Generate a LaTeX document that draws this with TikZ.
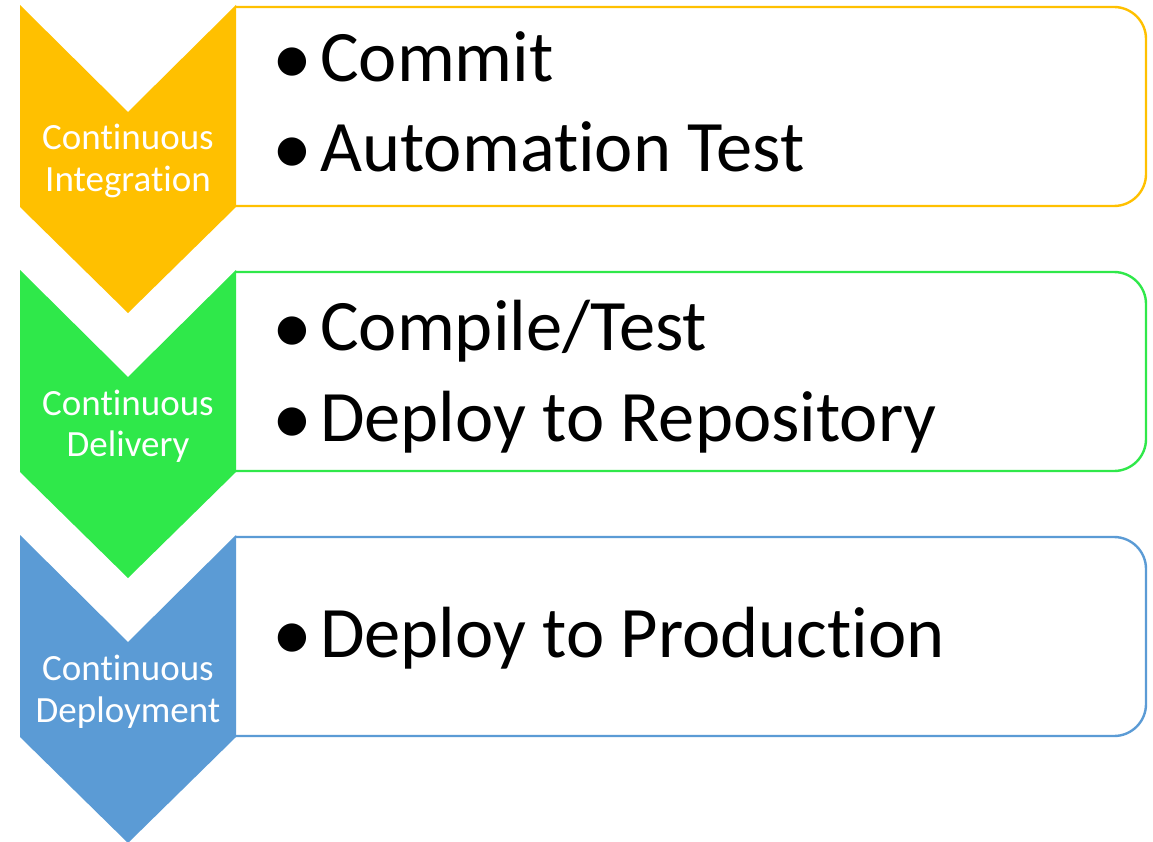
\documentclass[tikz,border=0pt]{standalone}
\usepackage{fontspec}
\setmainfont{Carlito}[Ligatures=NoCommon]
\usepackage{tikz}
\usetikzlibrary{positioning}

\definecolor{ciyellow}{HTML}{FFC000}
\definecolor{cdgreen}{HTML}{2FE84A}
\definecolor{cdblue}{HTML}{5B9BD5}

% bullet plus hanging text
\newcommand{\bulitem}[1]{\makebox[48pt][l]{\raisebox{-3pt}{\fontsize{80}{80}\selectfont\textbullet}}#1}

\begin{document}
\begin{tikzpicture}[
  x=1pt, y=-1pt,
  stage/.style={text=white, align=center, inner sep=0pt, font=\fontsize{37}{41.7}\selectfont},
  item/.style={anchor=base west, inner sep=0pt, font=\fontsize{72.5}{80}\selectfont},
  frame/.style={line width=2.4pt, rounded corners=32pt}
]
\useasboundingbox (0,0) rectangle (1153,842);

% Continuous integration
\draw[frame, draw=ciyellow] (235,7) -- (1146,7) -- (1146,206) -- (235,206);
\fill[ciyellow] (20,5) -- (128,112) -- (236,5) -- (236,207) -- (128,313) -- (20,207) -- cycle;
\node[stage, anchor=base] (ci) at (128,191.7) {Continuous\\Integration};
\node[item] (ci-a) at (272,81.7) {\bulitem{Commit}};
\node[item] (ci-b) at (272,171.7) {\bulitem{Automation Test}};

% Continuous delivery
\draw[frame, draw=cdgreen] (235,272) -- (1146,272) -- (1146,471) -- (235,471);
\fill[cdgreen] (20,270) -- (128,377) -- (236,270) -- (236,472) -- (128,578) -- (20,472) -- cycle;
\node[stage, anchor=base] (cd) at (128,456.7) {Continuous\\Delivery};
\node[item] (cd-a) at (272,350) {\bulitem{Compile/Test}};
\node[item] (cd-b) at (272,441) {\bulitem{Deploy to Repository}};

% Continuous deployment
\draw[frame, draw=cdblue] (235,537) -- (1146,537) -- (1146,736) -- (235,736);
\fill[cdblue] (20,535) -- (128,642) -- (236,535) -- (236,737) -- (128,843) -- (20,737) -- cycle;
\node[stage, anchor=base] (cdp) at (128,722.4) {Continuous\\Deployment};
\node[item] (cdp-a) at (272,657) {\bulitem{Deploy to Production}};

\end{tikzpicture}
\end{document}
